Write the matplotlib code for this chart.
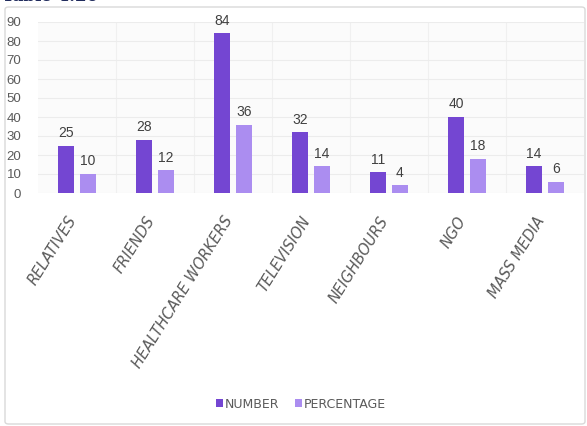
import matplotlib
matplotlib.use("Agg")
import matplotlib.pyplot as plt
import numpy as np
from matplotlib.patches import FancyBboxPatch

categories = ["RELATIVES", "FRIENDS", "HEALTHCARE WORKERS", "TELEVISION",
              "NEIGHBOURS", "NGO", "MASS MEDIA"]
number = [25, 28, 84, 32, 11, 40, 14]
percentage = [10, 12, 36, 14, 4, 18, 6]
yticks = [0, 10, 20, 30, 40, 50, 60, 70, 80, 90]

c_num = "#7446d2"
c_pct = "#ab8df0"
txt = "#5a5a5a"
digits = ["Liberation Sans", "DejaVu Sans"]

W, H = 587, 426
fig = plt.figure(figsize=(W / 100, H / 100), dpi=100)
plt.rcParams["font.family"] = ["DejaVu Sans"]

# outer frame, drawn beneath the axes
frame = FancyBboxPatch((5 / W, 2 / H), 580 / W, 417 / H,
                       boxstyle="round,pad=0,rounding_size=0.006",
                       transform=fig.transFigure, facecolor="white",
                       edgecolor="#d9d9d9", linewidth=1.0, zorder=-10)
fig.patches.append(frame)

# caption running off the top edge
fig.text(2 / W, 1 - 5 / H, "Table 4.20", fontsize=12, fontweight="bold",
         color="#1f2a5c", family="DejaVu Serif", va="bottom", ha="left")

left, right = 38, 584
top, bottom = 22, 193
ax = fig.add_axes([left / W, 1 - bottom / H, (right - left) / W, (bottom - top) / H])
ax.set_zorder(5)
ax.set_facecolor("#fbfbfb")

x = np.arange(len(categories))
off = 0.14
bw = 0.2
b1 = ax.bar(x - off, number, bw, color=c_num, label="NUMBER", zorder=3)
b2 = ax.bar(x + off, percentage, bw, color=c_pct, label="PERCENTAGE", zorder=3)

for bars, vals in ((b1, number), (b2, percentage)):
    for rect, v in zip(bars, vals):
        ax.annotate(str(v), (rect.get_x() + rect.get_width() / 2, v),
                    xytext=(0, 4), textcoords="offset points",
                    ha="center", va="bottom", fontsize=10, color="#404040",
                    family=digits)

ax.set_xlim(-0.5, len(categories) - 0.5)
ax.set_ylim(0, 90)
ax.set_yticks(yticks)
ax.set_yticklabels([str(t) for t in yticks], fontsize=9.5, color=txt,
                   family=digits)
ax.tick_params(axis="y", length=0, pad=12)
ax.grid(axis="y", color="#ececec", linewidth=0.8, zorder=0)
for xi in x[:-1]:
    ax.axvline(xi + 0.5, color="#f0f0f0", linewidth=0.8, zorder=0)

# rotated labels end just under each group's centre
ax.set_xticks(x - 0.13)
ax.set_xticklabels(categories, rotation=58, ha="right", rotation_mode="anchor",
                   fontsize=10.5, color=txt, fontstyle="italic")
ax.tick_params(axis="x", length=0, pad=15)
for s in ax.spines.values():
    s.set_visible(False)

leg = fig.legend(handles=[b1, b2], labels=["NUMBER", "PERCENTAGE"],
                 loc="center", bbox_to_anchor=(301 / W, 1 - 404 / H),
                 ncol=2, frameon=False, handlelength=0.5,
                 handleheight=0.6, handletextpad=0.15, columnspacing=1.3,
                 prop={"family": "DejaVu Sans", "size": 9})
for t in leg.get_texts():
    t.set_color(txt)

fig.savefig("out.png", dpi=100, facecolor="white")
